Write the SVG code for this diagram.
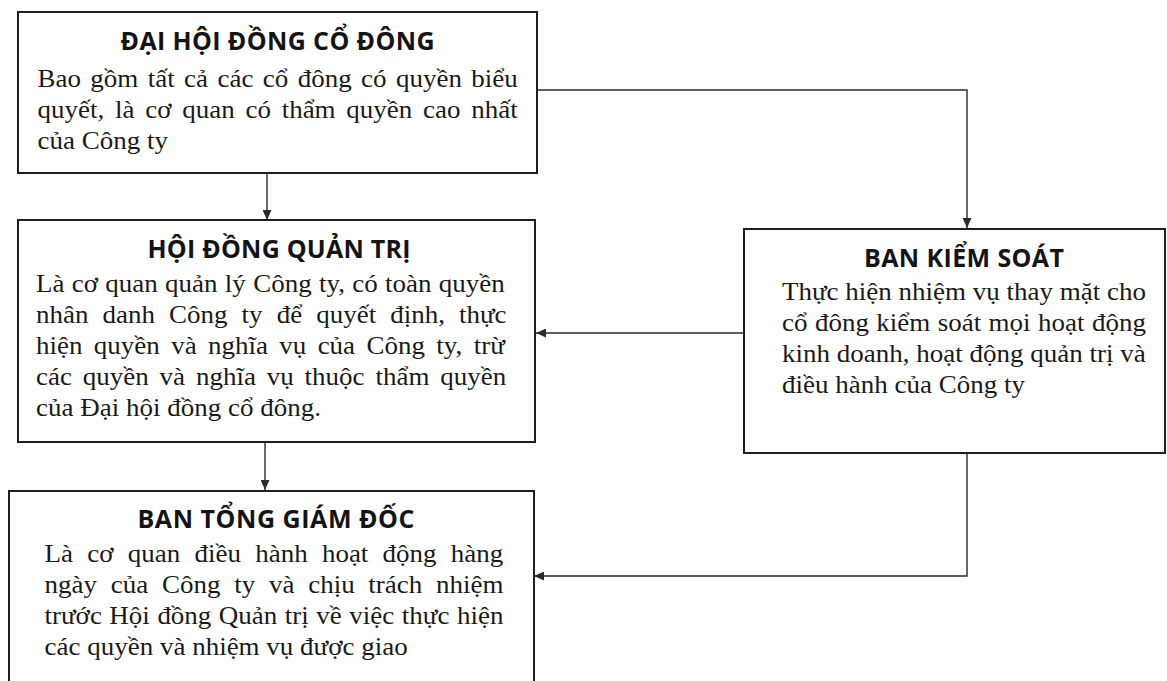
<svg xmlns="http://www.w3.org/2000/svg" width="1167" height="681" viewBox="0 0 1167 681">
<defs>
<style>
.box{fill:#fff;stroke:#1e1e1e;stroke-width:2}
.title{font-family:"Open Sans","Liberation Sans",sans-serif;font-weight:700;font-size:25px;fill:#141414;text-anchor:middle}
.body{font-family:"Liberation Serif","Times New Roman",serif;font-size:26px;fill:#1a1a1a}
.conn{fill:none;stroke:#2a2a2a;stroke-width:1.4}
</style>
<marker id="arr" markerUnits="userSpaceOnUse" markerWidth="10" markerHeight="9" refX="10" refY="4.5" orient="auto">
<path d="M0,0 L10,4.5 L0,9 z" fill="#2a2a2a"/>
</marker>
</defs>
<rect width="1167" height="681" fill="#fff"/>

<g id="connectors">
<path class="conn" d="M267,173 L267,220" marker-end="url(#arr)"/>
<path class="conn" d="M537,90 L967,90 L967,228" marker-end="url(#arr)"/>
<path class="conn" d="M744,333 L536,333" marker-end="url(#arr)"/>
<path class="conn" d="M265,442 L265,490" marker-end="url(#arr)"/>
<path class="conn" d="M967,453 L967,576 L534,576" marker-end="url(#arr)"/>
</g>

<g id="dai-hoi-dong-co-dong">
<rect class="box" x="18" y="12" width="519" height="161"/>
<text class="title" x="277.5" y="50" textLength="314" lengthAdjust="spacing">ĐẠI HỘI ĐỒNG CỔ ĐÔNG</text>
<g transform="scale(1.0385,1)">
<text class="body" x="36.11" y="87" word-spacing="2.54">Bao gồm tất cả các cổ đông có quyền biểu</text>
<text class="body" x="36.11" y="118" word-spacing="3.85">quyết, là cơ quan có thẩm quyền cao nhất</text>
<text class="body" x="36.11" y="149">của Công ty</text>
</g>
</g>

<g id="hoi-dong-quan-tri">
<rect class="box" x="18" y="220" width="517" height="222"/>
<text class="title" x="279" y="258" textLength="263" lengthAdjust="spacing">HỘI ĐỒNG QUẢN TRỊ</text>
<g transform="scale(1.0385,1)">
<text class="body" x="34.67" y="292" word-spacing="0.53">Là cơ quan quản lý Công ty, có toàn quyền</text>
<text class="body" x="34.67" y="323" word-spacing="7.03">nhân danh Công ty để quyết định, thực</text>
<text class="body" x="34.67" y="354" word-spacing="4.43">hiện quyền và nghĩa vụ của Công ty, trừ</text>
<text class="body" x="34.67" y="385" word-spacing="3.95">các quyền và nghĩa vụ thuộc thẩm quyền</text>
<text class="body" x="34.67" y="416">của Đại hội đồng cổ đông.</text>
</g>
</g>

<g id="ban-tong-giam-doc">
<rect class="box" x="9" y="491" width="525" height="210"/>
<text class="title" x="276" y="528" textLength="277" lengthAdjust="spacing">BAN TỔNG GIÁM ĐỐC</text>
<g transform="scale(1.0385,1)">
<text class="body" x="42.85" y="562" word-spacing="7.22">Là cơ quan điều hành hoạt động hàng</text>
<text class="body" x="42.85" y="593" word-spacing="6.74">ngày của Công ty và chịu trách nhiệm</text>
<text class="body" x="42.85" y="624" word-spacing="0.73">trước Hội đồng Quản trị về việc thực hiện</text>
<text class="body" x="42.85" y="655">các quyền và nhiệm vụ được giao</text>
</g>
</g>

<g id="ban-kiem-soat">
<rect class="box" x="744" y="229" width="421" height="224"/>
<text class="title" x="964" y="267" textLength="200" lengthAdjust="spacing">BAN KIỂM SOÁT</text>
<g transform="scale(1.0385,1)">
<text class="body" x="753" y="300">Thực hiện nhiệm vụ thay mặt cho</text>
<text class="body" x="753" y="331" word-spacing="0.65">cổ đông kiểm soát mọi hoạt động</text>
<text class="body" x="753" y="362">kinh doanh, hoạt động quản trị và</text>
<text class="body" x="753" y="393">điều hành của Công ty</text>
</g>
</g>
</svg>
